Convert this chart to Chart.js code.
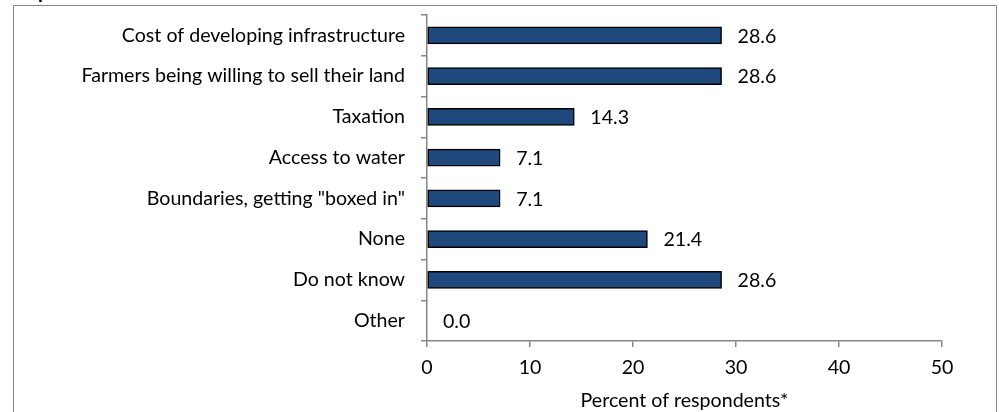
<!DOCTYPE html>
<html>
<head>
<meta charset="utf-8">
<script src="https://cdn.jsdelivr.net/npm/chart.js@4/dist/chart.umd.min.js"></script>
<style>
html,body{margin:0;padding:0;background:#fff;}
#wrap{position:relative;width:999px;height:412px;}
</style>
</head>
<body>
<div id="wrap"><canvas id="c" width="999" height="412"></canvas></div>
<script>
const categories = [
  'Cost of developing infrastructure',
  'Farmers being willing to sell their land',
  'Taxation',
  'Access to water',
  'Boundaries, getting "boxed in"',
  'None',
  'Do not know',
  'Other'
];
const percentValues = [28.6, 28.6, 14.3, 7.1, 7.1, 21.4, 28.6, 0.0];
const xTickMin = 0;
const xTickMax = 50;
const xTickStep = 10;
const xAxisTitle = 'Percent of respondents*';

const FONT = 'Lato';
const FSIZE = 19.6;
const AXIS_GRAY = '#868686';

const frame = {
  id: 'frame',
  beforeDraw(chart) {
    const ctx = chart.ctx;
    ctx.save();
    ctx.fillStyle = '#fff';
    ctx.fillRect(0, 0, chart.width, chart.height);
    ctx.strokeStyle = AXIS_GRAY;
    ctx.lineWidth = 1;
    ctx.beginPath();
    ctx.moveTo(13.5, 412);
    ctx.lineTo(13.5, 5.5);
    ctx.lineTo(996.5, 5.5);
    ctx.lineTo(996.5, 412);
    ctx.stroke();
    // cut-off title above the frame
    ctx.fillStyle = '#000';
    ctx.font = 'bold 20px ' + FONT;
    ctx.textBaseline = 'alphabetic';
    ctx.textAlign = 'left';
    ctx.fillText('p', 38, -2);
    ctx.restore();
  }
};

const valueLabels = {
  id: 'valueLabels',
  afterDatasetsDraw(chart) {
    const ctx = chart.ctx;
    const meta = chart.getDatasetMeta(0);
    ctx.save();
    ctx.fillStyle = '#000';
    ctx.font = FSIZE + 'px ' + FONT;
    ctx.textBaseline = 'middle';
    ctx.textAlign = 'left';
    meta.data.forEach((bar, i) => {
      const v = chart.data.datasets[0].data[i];
      ctx.fillText(v.toFixed(1), bar.x + 16, bar.y + 1);
    });
    ctx.restore();
  }
};

new Chart(document.getElementById('c'), {
  type: 'bar',
  data: {
    labels: categories,
    datasets: [{
      data: percentValues,
      backgroundColor: '#1F497D',
      borderColor: '#000000',
      borderWidth: 1.5,
      borderSkipped: false,
      barThickness: 17
    }]
  },
  options: {
    indexAxis: 'y',
    responsive: false,
    animation: false,
    devicePixelRatio: 1,
    layout: { padding: { left: 0, right: 57, top: 15, bottom: 0 } },
    plugins: {
      legend: { display: false },
      tooltip: { enabled: false },
      title: { display: false }
    },
    scales: {
      x: {
        min: xTickMin,
        max: xTickMax,
        ticks: {
          stepSize: xTickStep,
          color: '#000',
          font: { family: FONT, size: FSIZE },
          padding: 9
        },
        grid: {
          drawOnChartArea: false,
          drawTicks: true,
          tickLength: 6,
          color: AXIS_GRAY,
          lineWidth: 1.5
        },
        border: { display: true, color: AXIS_GRAY, width: 1.5 },
        title: {
          display: true,
          text: xAxisTitle,
          color: '#000',
          font: { family: FONT, size: FSIZE },
          padding: { top: 0, bottom: 0 }
        },
        afterFit(scale) {
          scale.height = 71;
          scale.paddingLeft = 0; scale.paddingRight = 0;
        }
      },
      y: {
        ticks: {
          color: '#000',
          font: { family: FONT, size: FSIZE },
          padding: 16
        },
        grid: {
          drawOnChartArea: false,
          drawTicks: true,
          tickLength: 6,
          color: AXIS_GRAY,
          lineWidth: 1.5,
          offset: true
        },
        border: { display: true, color: AXIS_GRAY, width: 1.5 },
        afterFit(scale) {
          scale.width = 427;
          scale.paddingTop = 0; scale.paddingBottom = 0;
        }
      }
    }
  },
  plugins: [frame, valueLabels]
});
</script>
</body>
</html>
